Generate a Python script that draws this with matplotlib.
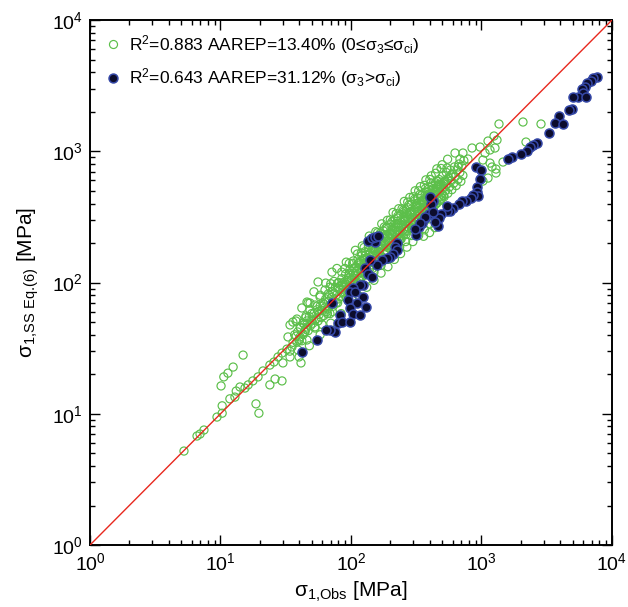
import matplotlib
matplotlib.use("Agg")
import matplotlib.pyplot as plt
from matplotlib.lines import Line2D
import numpy as np

plt.rcParams['font.family'] = ['Liberation Sans', 'DejaVu Sans']
plt.rcParams['mathtext.default'] = 'regular'

# ===========================================
# data [MPa]
# ===========================================

# 0 <= sigma3 <= sigma_ci  (green open circles)
green_obs = [
    # sparse tail, low stresses
    5.25, 6.61, 6.97, 7.47, 9.40, 10.3, 10.3, 11.8, 12.9, 13.2,
    14.1, 15.4, 16.3, 17.7, 19.4, 21.2, 23.9, 25.7, 27.6, 29.6,
    32.3, 35.3, 38.5, 40.7, 44.4, 10.1, 10.6, 11.4, 12.5, 14.9,
    18.7, 19.7, 23.9, 26.2, 29.6, 30.1, 34.1, 40.0, 41.4, 34.1,
    35.9, 37.9, 45.2, 46.0, 46.0, 39.3, 46.9, 55.9, 71.5, 63.2,
    69.0, 57.9, 46.0, 48.5, 53.0, 38.5, 40.7, 42.9, 32.9, 48.5,
    # sparse, high stresses
    1362, 2080, 2858, 2193, 1462, 1247, 1315, 1122, 1269, 1162,
    1064, 975, 846, 721, 627, 684, 788, 1026, 1162, 1203,
    544, 661, 1291, 1291, 1122, 1026,
    # dense band
    34, 36, 37, 39, 40, 41, 42, 43, 44, 45, 46, 47, 48, 49, 50,
    51, 52, 53, 54, 55, 56, 57, 58, 59, 60, 61, 62, 63, 64, 65,
    66, 67, 68, 69, 70, 71, 72, 73, 74, 76, 77, 78, 79, 80, 82,
    83, 84, 85, 86, 88, 89, 90, 91, 93, 94, 95, 96, 98, 99, 100,
    102, 103, 104, 106, 107, 109, 110, 112, 113, 115,
    116, 118, 119, 121, 122, 124, 125, 127, 128, 130,
    131, 133, 135, 136, 138, 140, 141, 143, 145, 147,
    148, 150, 152, 154, 156, 158, 160, 162, 164, 166,
    168, 170, 172, 175, 177, 179, 181, 184, 186, 189,
    191, 193, 196, 198, 201, 203, 206, 208, 211, 213,
    216, 218, 221, 224, 227, 229, 232, 235, 238, 241,
    244, 247, 250, 253, 256, 259, 262, 266, 269, 272,
    275, 279, 282, 286, 289, 293, 296, 300, 304, 308,
    311, 315, 319, 323, 327, 331, 335, 339, 343, 348,
    352, 356, 361, 365, 370, 374, 379, 384, 388, 393,
    398, 403, 408, 413, 418, 423, 428, 434, 439, 445,
    450, 455, 461, 467, 473, 479, 485, 491, 497, 503,
    510, 517, 523, 530, 537, 544, 552, 560, 568, 576,
    584, 593, 602, 611, 620, 630, 640, 650, 661, 672,
    683, 695, 707, 720, 733,
    38, 44, 50, 56, 62, 68, 74, 80, 87, 94,
    101, 108, 117, 126, 134, 144, 153, 163, 173, 183,
    194, 205, 217, 230, 243, 258, 273, 290, 307, 325,
    344, 364, 386, 410, 435, 460, 488, 518, 550, 585,
    70, 85, 97, 112, 126, 142, 160, 180, 200, 222,
    246, 272, 300, 330, 365, 402, 445, 490,
    92, 104, 118, 133, 150, 170, 190, 212, 236, 262,
    290, 320, 355, 393, 435, 480,
    360, 400, 440,
    # band edges and fill
    42, 52, 64, 78, 92, 108, 122, 138, 155, 172, 190,
    210, 232, 256, 282, 310, 340, 375, 412, 455, 500, 550,
    48, 58, 70, 84, 99, 115, 132, 150, 170, 192,
    215, 240, 268, 298, 330, 365, 402, 442,
    45, 55, 67, 81, 97, 114, 130, 147, 165, 185,
    207, 230, 255, 283, 313, 346, 382, 420, 462,
    40, 53, 66, 79, 95, 112, 128, 146, 166, 188,
    211, 236, 264, 294, 326, 360, 398, 440, 486,
    58, 74, 90, 104, 120, 136, 152, 168, 186,
    206, 228, 252, 278, 306, 338, 372, 410,
    105, 118, 126, 139, 152, 161, 174, 187, 199, 214,
    226, 241, 257, 271, 288, 303, 318, 334, 352, 371,
    388, 407, 426, 448, 471, 495, 520,
    60, 72, 86, 100, 116, 132, 148, 164, 182, 200,
    220, 242, 266, 292, 320, 352, 386, 424, 466, 512,
]
green_pred = [
    5.20, 6.77, 7.01, 7.52, 9.44, 10.1, 11.5, 13.0, 13.4, 14.9,
    16.0, 15.7, 16.6, 17.8, 19.1, 21.2, 23.5, 24.8, 27.1, 29.0,
    31.1, 32.3, 35.2, 38.5, 42.0, 16.3, 19.1, 20.4, 22.7, 28.0,
    11.9, 10.1, 16.6, 18.4, 17.8, 24.4, 27.1, 27.1, 24.4, 47.5,
    50.0, 50.9, 55.6, 45.8, 36.5, 30.6, 69.8, 101, 120, 87.7,
    92.4, 77.6, 71.0, 69.8, 67.4, 52.7, 45.8, 49.1, 38.5, 61.7,
    1614, 1671, 1614, 1176, 828, 1307, 1218, 1197, 1059, 1023,
    970, 1077, 1059, 970, 970, 873, 873, 858, 813, 759,
    746, 759, 732, 683, 625, 593,
    30, 35, 40, 42, 37, 45, 36, 40, 48, 44, 51, 43, 55, 47, 52,
    49, 58, 45, 53, 62, 51, 57, 66, 54, 61, 70, 56, 64, 75, 60,
    63, 72, 80, 58, 68, 77, 85, 66, 72, 92, 70, 81, 99, 75, 88,
    78, 95, 107, 83, 92, 101, 84, 116, 97, 88, 108, 92, 125, 101, 113,
    96, 140, 118, 108, 130, 100, 122, 115, 150, 128,
    109, 137, 120, 160, 112, 131, 148, 118, 172, 140,
    125, 155, 139, 186, 148, 132, 168, 150, 200, 142,
    160, 181, 140, 170, 215, 150, 192, 172, 230, 162,
    180, 205, 158, 190, 248, 172, 220, 196, 170, 262,
    205, 184, 236, 215, 278, 192, 226, 250, 208, 295,
    238, 205, 265, 222, 310, 250, 218, 282, 236, 330,
    265, 230, 298, 252, 348, 280, 246, 318, 268, 372,
    296, 258, 336, 285, 395, 312, 272, 356, 300, 418,
    332, 288, 378, 318, 440, 350, 305, 398, 335, 462,
    372, 322, 420, 356, 490, 395, 342, 445, 375, 515,
    418, 360, 470, 398, 545, 442, 380, 498, 422, 575,
    468, 402, 528, 445, 610, 495, 425, 560, 472, 650,
    525, 450, 595, 500, 690, 560, 478, 630, 535, 720,
    595, 510, 670, 570, 760, 640, 548, 720, 610, 800,
    690, 590, 770, 655, 850,
    39, 42, 58, 60, 68, 65, 83, 90, 99, 104,
    106, 117, 126, 138, 152, 158, 175, 180, 196, 205,
    218, 232, 245, 262, 275, 292, 310, 328, 345, 368,
    388, 410, 432, 460, 488, 515, 545, 580, 612, 650,
    98, 120, 140, 165, 185, 215, 240, 265, 300, 335,
    365, 410, 450, 500, 550, 610, 680, 740,
    76, 84, 95, 106, 120, 135, 150, 168, 186, 205,
    228, 250, 278, 305, 335, 370,
    225, 240, 262,
    64, 85, 99, 128, 143, 176, 190, 226, 244, 280, 298,
    342, 365, 415, 445, 500, 538, 606, 650, 735, 790, 870,
    33, 40, 49, 58, 69, 79, 92, 104, 118, 132,
    150, 166, 186, 205, 228, 252, 280, 305,
    54, 66, 82, 100, 118, 140, 162, 180, 205, 228,
    252, 282, 312, 345, 380, 420, 462, 505, 550,
    36, 46, 58, 70, 84, 98, 114, 128, 148, 166,
    186, 210, 232, 260, 290, 318, 352, 390, 430,
    80, 102, 128, 146, 168, 193, 212, 238, 262,
    290, 320, 356, 390, 430, 470, 520, 575,
    128, 104, 152, 127, 176, 143, 208, 169, 236, 192,
    275, 217, 300, 246, 345, 278, 390, 301, 420, 338,
    470, 362, 520, 400, 560, 440, 590,
    48, 60, 96, 90, 142, 118, 186, 146, 228, 181,
    280, 214, 340, 258, 400, 302, 490, 370, 590, 460,
]

# sigma3 > sigma_ci  (dark filled circles)
dark_obs = [
    7710, 7190, 6870, 6400, 6210, 5860, 5960, 5520, 5050, 6320,
    4910, 4710, 3950, 3660, 4240, 3290, 2650, 2500, 2350, 2220,
    2000, 1700, 1600, 908, 988, 970, 919, 930, 947, 865,
    825, 758, 709, 668, 601, 574, 540, 493, 472, 464,
    424, 411, 399, 366, 349, 333, 313, 152, 403, 541,
    427, 369, 440, 338, 309, 136, 144, 153, 162, 224,
    217, 224, 211, 199, 188, 172, 157, 140, 128, 136,
    144, 124, 117, 104, 98.3, 95.3, 107, 124, 111, 98.3,
    104, 117, 130, 82.4, 80.0, 84.9, 98.3, 71.1, 75.4, 69.0,
    64.3, 55.2, 41.9,
]
dark_pred = [
    3700, 3595, 3450, 3330, 3100, 2965, 2760, 2580, 2580, 2605,
    2090, 2060, 1857, 1650, 1605, 1385, 1162, 1116, 1072, 1010,
    953, 899, 877, 763, 714, 615, 536, 490, 458, 461,
    442, 416, 416, 396, 370, 352, 352, 331, 312, 268,
    416, 396, 331, 308, 285, 264, 231, 205, 451, 383,
    346, 317, 290, 282, 254, 208, 217, 221, 226, 201,
    187, 177, 165, 157, 153, 148, 136, 148, 128, 117,
    111, 95.7, 95.7, 90.3, 85.1, 73.6, 85.1, 78.0, 69.5, 63.6,
    57.5, 56.5, 64.7, 56.5, 48.9, 50.3, 50.3, 69.5, 42.2, 43.5,
    43.5, 36.5, 29.7,
]

label_green = 'R$^2$=0.883 AAREP=13.40% (0≤σ$_3$≤σ$_{ci}$)'
label_dark = 'R$^2$=0.643 AAREP=31.12% (σ$_3$>σ$_{ci}$)'
axis_lim = [1, 1e4]

green = '#5cbf4a'
dark_fill = '#0c0c2c'
dark_edge = '#3548a8'
red = '#e8281e'

# ===========================================
# Affichage
# ===========================================
fig = plt.figure(figsize=(6.28, 6.07), dpi=100)
ax = fig.add_axes([0.1433, 0.1021, 0.8312, 0.8649])

ax.scatter(green_obs, green_pred, s=34, facecolors='none', edgecolors=green,
           linewidths=0.85, zorder=2)
ax.scatter(dark_obs, dark_pred, s=42, facecolors=dark_fill, edgecolors=dark_edge,
           linewidths=1.1, zorder=3)
ax.plot(axis_lim, axis_lim, color=red, lw=1.0, zorder=4)

ax.set_xscale('log')
ax.set_yscale('log')
ax.set_xlim(axis_lim)
ax.set_ylim(axis_lim)

ax.tick_params(which='both', direction='in', top=True, right=True, width=1)
ax.tick_params(which='major', length=7, labelsize=14, pad=5)
ax.tick_params(which='minor', length=3.5)
for s in ax.spines.values():
    s.set_linewidth(1.4)

ax.set_xlabel('σ$_{1{,}Obs}$ [MPa]', fontsize=15, labelpad=4)
ax.set_ylabel('σ$_{1{,}SS\\ Eq{.}\\!(6)}$ [MPa]', fontsize=15, labelpad=8)

handles = [
    Line2D([], [], ls='none', marker='o', ms=5.8, mfc='none', mec=green, mew=0.85),
    Line2D([], [], ls='none', marker='o', ms=6.4, mfc=dark_fill, mec=dark_edge, mew=1.1),
]
ax.legend(handles, [label_green, label_dark], loc='upper left', frameon=False,
          fontsize=12.5, handletextpad=0.3, labelspacing=0.6,
          borderaxespad=0.35, handlelength=1.2)

fig.savefig('out.png', dpi=100)
